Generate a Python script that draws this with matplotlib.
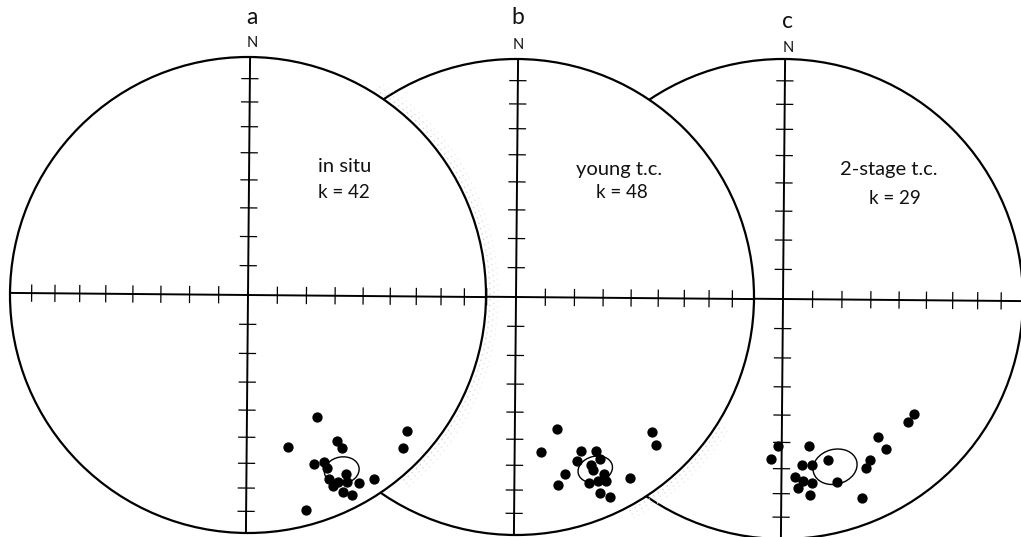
import numpy as np
import matplotlib
matplotlib.use("Agg")
import matplotlib.pyplot as plt
from matplotlib.patches import Circle, Ellipse, Arc

plt.rcParams['font.family'] = ['Lato', 'DejaVu Sans']

# ---------------- data ----------------
panel_labels = ['a', 'b', 'c']
panel_titles = ['in situ', 'young t.c.', '2-stage t.c.']
k_values = [42, 48, 29]
tick_plunges = [10, 20, 30, 40, 50, 60, 70, 80]   # equal-area graduation (deg)

# site-mean directions, equal-area net coordinates (east, north), unit = primitive radius
a_east = [0.291, 0.169, 0.375, 0.394, 0.668, 0.651, 0.279, 0.321, 0.333, 0.340,
          0.358, 0.379, 0.411, 0.415, 0.398, 0.437, 0.468, 0.531, 0.245]
a_north = [-0.514, -0.639, -0.613, -0.642, -0.570, -0.644, -0.711, -0.700, -0.726, -0.774,
           -0.803, -0.784, -0.752, -0.784, -0.826, -0.842, -0.789, -0.773, -0.905]

b_east = [0.172, 0.104, 0.273, 0.336, 0.255, 0.353, 0.314, 0.325, 0.205, 0.370,
          0.175, 0.305, 0.346, 0.378, 0.353, 0.395, 0.479, 0.571, 0.587]
b_north = [-0.556, -0.651, -0.646, -0.647, -0.690, -0.682, -0.707, -0.727, -0.742, -0.744,
           -0.789, -0.782, -0.773, -0.773, -0.822, -0.840, -0.759, -0.567, -0.622]

c_east = [0.546, 0.521, 0.395, 0.429, -0.020, 0.108, -0.050, 0.188, 0.363, 0.347,
          0.080, 0.120, 0.051, 0.085, 0.122, 0.225, 0.064, 0.113, 0.328]
c_north = [-0.480, -0.513, -0.574, -0.626, -0.613, -0.614, -0.665, -0.670, -0.670, -0.703,
           -0.690, -0.692, -0.743, -0.757, -0.768, -0.761, -0.786, -0.817, -0.828]

# alpha-95 confidence ellipses (net units)
ell_east = [0.394, 0.333, 0.217]
ell_north = [-0.737, -0.724, -0.699]
ell_width = [0.147, 0.147, 0.186]
ell_height = [0.113, 0.109, 0.145]
ell_angle = [10, 15, 15]

points = [(a_east, a_north), (b_east, b_north), (c_east, c_north)]

# ---------------- layout ----------------
W, H = 1021, 537
centers = [(248, 242), (516, 240), (783, 238)]
radii = [238, 238, 240]
rot = np.radians(0.5)                      # slight scan rotation (clockwise)
e_vec = np.array([np.cos(rot), -np.sin(rot)])
n_vec = np.array([np.sin(rot), np.cos(rot)])
tick_half = 8
label_pos = [(252, 520), (518, 519), (787, 515)]
n_pos = [(252, 494), (518, 492), (788, 489)]
title_pos = [(345, 370), (619, 368), (889, 367)]
k_pos = [(344, 345), (622, 344), (895, 339)]

fig = plt.figure(figsize=(W / 100, H / 100), dpi=100)
ax = fig.add_axes([0, 0, 1, 1])
ax.set_xlim(0, W)
ax.set_ylim(0, H)
ax.axis('off')


def draw_net(i, z):
    cx, cy = centers[i]
    R = radii[i]
    c = np.array([cx, cy], dtype=float)
    ax.add_patch(Circle((cx, cy), R, facecolor='white', edgecolor='black',
                        lw=1.6, zorder=z))
    for v in (e_vec, n_vec):
        p0, p1 = c - R * v, c + R * v
        ax.plot([p0[0], p1[0]], [p0[1], p1[1]], color='black', lw=1.4,
                solid_capstyle='butt', zorder=z + 1)
    for p in tick_plunges:
        r = R * np.sqrt(2) * np.sin(np.radians(90 - p) / 2)
        for s in (-1, 1):
            q = c + s * r * e_vec
            t0, t1 = q - tick_half * n_vec, q + tick_half * n_vec
            ax.plot([t0[0], t1[0]], [t0[1], t1[1]], color='black', lw=0.9, zorder=z + 1)
            q = c + s * r * n_vec
            t0, t1 = q - tick_half * e_vec, q + tick_half * e_vec
            ax.plot([t0[0], t1[0]], [t0[1], t1[1]], color='black', lw=0.9, zorder=z + 1)
    ex, ny = points[i]
    ax.plot(cx + R * np.array(ex), cy + R * np.array(ny), 'o', ms=6.4,
            color='black', mec='black', zorder=z + 2)
    ax.add_patch(Ellipse((cx + R * ell_east[i], cy + R * ell_north[i]),
                         R * ell_width[i], R * ell_height[i], angle=ell_angle[i],
                         facecolor='none', edgecolor='black', lw=1.0, zorder=z + 2))
    ax.text(*title_pos[i], panel_titles[i], ha='center', va='center',
            fontsize=14.5, color='#111111', zorder=z + 3)
    ax.text(*k_pos[i], f'k = {k_values[i]}', ha='center', va='center',
            fontsize=13.5, color='#111111', zorder=z + 3)
    ax.text(*label_pos[i], panel_labels[i], ha='center', va='center',
            fontsize=16.5, color='#111111', zorder=z + 3)
    ax.text(*n_pos[i], 'N', ha='center', va='center',
            fontsize=10.5, color='#111111', zorder=z + 3)


def stipple(i, t1, t2, z):
    R = radii[i]
    for dr, col in ((4, '#d4d4d4'), (8, '#e2e2e2'), (12, '#eeeeee')):
        ax.add_patch(Arc(centers[i], 2 * (R + dr), 2 * (R + dr), theta1=t1, theta2=t2,
                         color=col, lw=1.0, linestyle=(0, (1, 3)), zorder=z))


draw_net(2, 0)
stipple(1, -62, -32, 0.5)
draw_net(1, 10)
stipple(0, -50, 58, 10.5)
draw_net(0, 20)

fig.savefig('out.png', dpi=100, facecolor='white')
